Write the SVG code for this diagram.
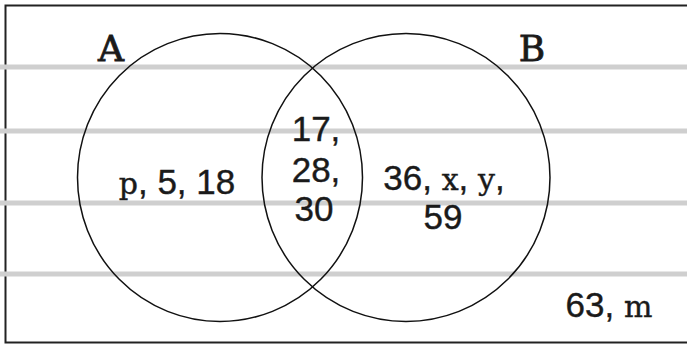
<svg xmlns="http://www.w3.org/2000/svg" width="687" height="345" viewBox="0 0 687 345">
<style>
.band{stroke:#cfcfcf;stroke-width:5;fill:none}
.set{fill:none;stroke:#111;stroke-width:1.5}
.num{font-family:"Liberation Sans",Arial,sans-serif;font-size:35px;fill:#1a1a1a;stroke:#1a1a1a;stroke-width:0.4;text-anchor:middle}
.let{font-family:"DejaVu Serif",serif;font-size:30px}
.lbl{font-family:"DejaVu Serif",serif;font-size:36px;fill:#1a1a1a;stroke:#1a1a1a;stroke-width:0.8;text-anchor:middle}
</style>
<rect x="5.5" y="5.5" width="690" height="337" fill="#fff" stroke="#222" stroke-width="2"/>
<g id="bands">
<line class="band" x1="0" y1="67" x2="687" y2="67"/>
<line class="band" x1="0" y1="131" x2="687" y2="131"/>
<line class="band" x1="0" y1="203" x2="687" y2="203"/>
<line class="band" x1="0" y1="274" x2="687" y2="274"/>
</g>
<g id="setA">
<ellipse class="set" cx="220" cy="177.5" rx="142.5" ry="144"/>
<text class="lbl" x="111" y="61">A</text>
<text class="num" x="177" y="194"><tspan class="let">p</tspan>, 5, 18</text>
</g>
<g id="setB">
<ellipse class="set" cx="406" cy="177.5" rx="144" ry="144"/>
<text class="lbl" x="532" y="61">B</text>
<text class="num" x="444" y="190">36, <tspan class="let">x</tspan>, <tspan class="let">y</tspan>,</text>
<text class="num" x="443" y="229">59</text>
</g>
<g id="intersection">
<text class="num" x="316" y="141">17,</text>
<text class="num" x="316" y="182">28,</text>
<text class="num" x="314" y="221">30</text>
</g>
<g id="universe">
<text class="num" x="609" y="317">63, <tspan class="let">m</tspan></text>
</g>
<g id="connectors"/>
</svg>
